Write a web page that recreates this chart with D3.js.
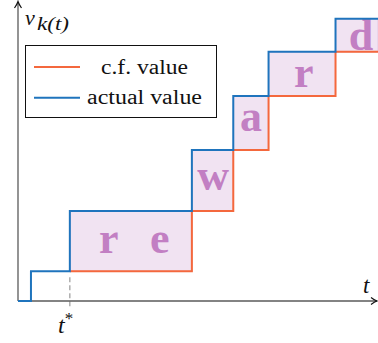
<!DOCTYPE html>
<html><head><meta charset="utf-8">
<script src="https://cdn.jsdelivr.net/npm/d3@7"></script>
<style>html,body{margin:0;padding:0;background:#fff;}svg{display:block;}
.serif{font-family:"Liberation Serif","Times New Roman",serif;}
</style>
</head><body>
<script>
// ---- data ----
const actualTimes  = [0, 0.36, 1.44, 4.83, 5.98, 6.96, 8.82, 10];
const actualValues = [0, 1.0, 3.02, 5.07, 6.88, 8.36, 9.47, 9.47];
const cfTimes  = [1.44, 4.83, 5.98, 6.96, 8.82, 10];
const cfValues = [1.0, 3.02, 5.07, 6.88, 8.36, 8.36];
const tStar = 1.44;
const rewardLetters = ["r", "e", "w", "a", "r", "d"];
const letterTimes   = [2.52, 3.94, 5.42, 6.47, 7.94, 9.53];
const letterValues  = [1.61, 1.61, 3.72, 5.70, 7.18, 8.42];
const legendLabels = ["c.f. value", "actual value"];

const W = 378, H = 343;
const blue = "#1f74bd", orange = "#f4683d", purple = "#c27fc3", fill = "#f1e3f2";

const svg = d3.select("body").append("svg").attr("width", W).attr("height", H);
const x = d3.scaleLinear().domain([0, 10]).range([18, 378]);
const y = d3.scaleLinear().domain([0, 10]).range([301, 3]);

const actual = actualTimes.map((t, i) => ({t, v: actualValues[i]}));
const cf = cfTimes.map((t, i) => ({t, v: cfValues[i]}));

// shaded reward region between cf and actual
const band = cfTimes.map((t, i) => {
  const j = actualTimes.indexOf(t);
  return {t, lo: cfValues[i], hi: actualValues[j]};
});
const area = d3.area().curve(d3.curveStepAfter)
  .x(d => x(d.t)).y0(d => y(d.lo)).y1(d => y(d.hi));
svg.append("path").datum(band).attr("d", area)
  .attr("fill", fill).attr("stroke", "#e3c6e4").attr("stroke-width", 1);

// reward letters
svg.append("g").attr("class", "serif").selectAll("text").data(rewardLetters).join("text")
  .attr("x", (d, i) => x(letterTimes[i]))
  .attr("y", (d, i) => y(letterValues[i]))
  .attr("text-anchor", "middle")
  .attr("font-weight", "bold")
  .attr("font-size", 44)
  .attr("fill", purple)
  .text(d => d);

// dashed t* marker
svg.append("line").attr("x1", x(tStar)).attr("x2", x(tStar))
  .attr("y1", y(cfValues[0]) + 6).attr("y2", y(0) + 6)
  .attr("stroke", "#9a9a9a").attr("stroke-width", 1.2).attr("stroke-dasharray", "5,3");

// axes
const axisCol = "#5a5a5a";
svg.append("line").attr("x1", x(0)).attr("x2", x(0)).attr("y1", y(0)).attr("y2", 2)
  .attr("stroke", axisCol).attr("stroke-width", 1.3);
svg.append("line").attr("x1", x(0)).attr("x2", W - 1).attr("y1", y(0)).attr("y2", y(0))
  .attr("stroke", axisCol).attr("stroke-width", 1.3);
svg.append("path").attr("d", `M${x(0)-3.5},${8} Q${x(0)-0.8},${4} ${x(0)},${1.5} Q${x(0)+0.8},${4} ${x(0)+3.5},${8}`)
  .attr("fill", "none").attr("stroke", "#111").attr("stroke-width", 1.2);
svg.append("path").attr("d", `M${W-7},${y(0)-3.5} Q${W-3.5},${y(0)-0.8} ${W-1},${y(0)} Q${W-3.5},${y(0)+0.8} ${W-7},${y(0)+3.5}`)
  .attr("fill", "none").attr("stroke", "#111").attr("stroke-width", 1.2);

// step lines
const line = d3.line().curve(d3.curveStepAfter).x(d => x(d.t)).y(d => y(d.v));
svg.append("path").datum(cf).attr("d", line)
  .attr("fill", "none").attr("stroke", orange).attr("stroke-width", 2);
svg.append("path").datum(actual).attr("d", line)
  .attr("fill", "none").attr("stroke", blue).attr("stroke-width", 2);

// axis labels
const lab = svg.append("g").attr("class", "serif").attr("font-style", "italic").attr("fill", "#111");
lab.append("text").attr("x", 25).attr("y", 25).attr("font-size", 22).text("v");
lab.append("text").attr("x", 37).attr("y", 30).attr("font-size", 19)
  .attr("textLength", 32).attr("lengthAdjust", "spacingAndGlyphs").text("k(t)");
lab.append("text").attr("x", 363).attr("y", 293).attr("font-size", 23).text("t");
const ts = lab.append("text").attr("x", 58).attr("y", 333).attr("font-size", 24);
ts.append("tspan").text("t");
ts.append("tspan").attr("font-style", "normal").attr("font-size", 17).attr("dy", -9).text("*");

// legend
const lg = svg.append("g");
lg.append("rect").attr("x", 25.5).attr("y", 45.5).attr("width", 191).attr("height", 72)
  .attr("fill", "#fff").attr("stroke", "#111").attr("stroke-width", 1);
const lgColors = [orange, blue];
const lgWidths = [87, 115];
legendLabels.forEach((lbl, i) => {
  const yy = 67 + i * 30.7;
  lg.append("line").attr("x1", 34).attr("x2", 80).attr("y1", yy).attr("y2", yy)
    .attr("stroke", lgColors[i]).attr("stroke-width", 2);
  lg.append("text").attr("class", "serif").attr("x", 144.5).attr("y", yy + 6.5).attr("text-anchor", "middle")
    .attr("font-size", 20).attr("fill", "#111")
    .attr("textLength", lgWidths[i]).attr("lengthAdjust", "spacingAndGlyphs")
    .text(lbl);
});
</script>
</body></html>
